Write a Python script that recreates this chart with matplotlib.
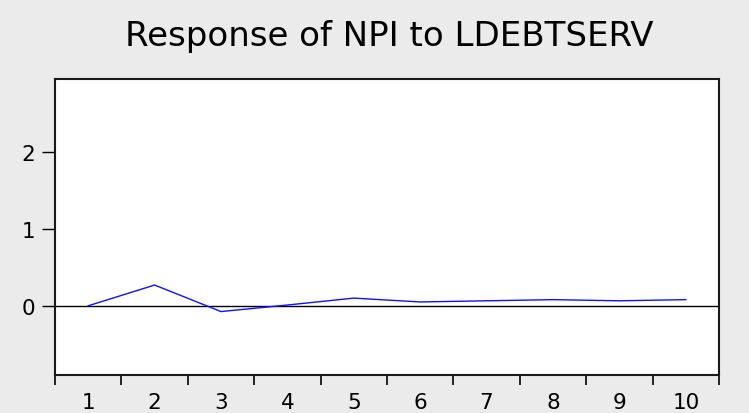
import matplotlib.pyplot as plt
import numpy as np

plt.rcParams['font.family'] = ['DejaVu Sans']

periods = [1, 2, 3, 4, 5, 6, 7, 8, 9, 10]
response = [0.0, 0.27, -0.075, 0.01, 0.10, 0.05, 0.065, 0.08, 0.065, 0.08]
yticks = [0, 1, 2]

fig = plt.figure(figsize=(7.49, 4.14), dpi=100)
fig.patch.set_facecolor('#ebebeb')
ax = fig.add_axes([0.0734, 0.0918, 0.8866, 0.715])
ax.set_facecolor('white')

ax.axhline(0, color='black', lw=1.0, zorder=1)
ax.plot(periods, response, color='#1010ff', lw=1.0, zorder=2)

ax.set_xlim(0.5, 10.5)
ax.set_ylim(-0.9, 2.95)

# category boundaries get the ticks, labels sit in between
ax.set_xticks(np.arange(0.5, 11, 1))
ax.set_xticklabels([])
ax.set_xticks(periods, minor=True)
ax.set_xticklabels([str(p) for p in periods], minor=True)
ax.tick_params(axis='x', which='major', direction='out', length=7, width=1.2, color='black')
ax.tick_params(axis='x', which='minor', length=0, pad=12, labelsize=15.5)

ax.set_yticks(yticks)
ax.set_yticklabels([str(t) for t in yticks])
ax.tick_params(axis='y', direction='out', length=9.5, width=1.0, pad=5, labelsize=15.5)

for side in ['left', 'right', 'top', 'bottom']:
    ax.spines[side].set_linewidth(1.5)
    ax.spines[side].set_color('#1a1a1a')

fig.text(0.52, 0.912, 'Response of NPI to LDEBTSERV', ha='center', va='center', fontsize=24.5)

fig.savefig('out.png', dpi=100, facecolor=fig.get_facecolor())
